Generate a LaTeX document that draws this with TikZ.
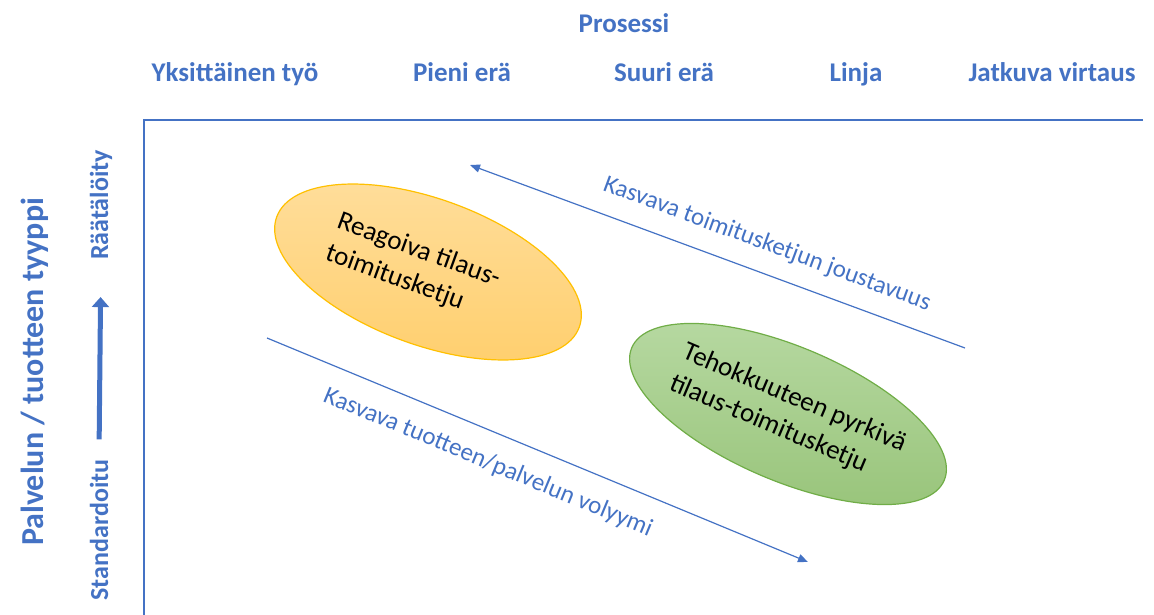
\documentclass[tikz,border=0pt]{standalone}
\usepackage{fontspec}
\setmainfont{Carlito}
\usepackage{xcolor}
\usetikzlibrary{shapes, arrows.meta, positioning, calc}
\definecolor{axisblue}{HTML}{4472C4}
\definecolor{orangeedge}{HTML}{FFC000}
\definecolor{orangetop}{HTML}{FFDE9C}
\definecolor{orangebottom}{HTML}{FFCF6E}
\definecolor{greenedge}{HTML}{70AD47}
\definecolor{greentop}{HTML}{B7D9A2}
\definecolor{greenbottom}{HTML}{98C47A}
\tikzset{
    axis/.style={draw=axisblue, line width=2.6pt},
    heading/.style={text=axisblue, font=\fontsize{27}{32}\selectfont\bfseries, inner sep=0pt, anchor=base},
    sidelabel/.style={text=axisblue, font=\fontsize{26}{30}\selectfont\bfseries, rotate=90, inner sep=0pt, anchor=base},
    levelarrow/.style={draw=axisblue, line width=5pt, -{Triangle[length=10pt, width=17pt]}},
    trend/.style={draw=axisblue, line width=1.2pt, -{Triangle[length=10pt, width=8pt]}},
    trendlabel/.style={text=axisblue, font=\fontsize{25}{29}\selectfont, sloped},
    chain/.style={ellipse, draw, line width=1.2pt, align=left, font=\fontsize{27}{34}\selectfont, inner sep=0pt}
}

\begin{document}
\begin{tikzpicture}[x=1pt, y=1pt]
  \useasboundingbox (0,0) rectangle (1154,-615);
  % axes
  \coordinate (origin) at (144,-120);
  \coordinate (xend) at (1143,-120);
  \coordinate (yend) at (144,-615);
  \draw[axis] (xend) -- (origin) -- (yend);
  % process types
  \node[heading] (process) at (624,-33) {Prosessi};
  \node[heading] (job) at (235,-82) {Yksittäinen työ};
  \node[heading] (smallbatch) at (462,-82) {Pieni erä};
  \node[heading] (largebatch) at (664,-82) {Suuri erä};
  \node[heading] (line) at (856,-82) {Linja};
  \node[heading] (flow) at (1052,-82) {Jatkuva virtaus};
  % product types
  \node[sidelabel, font=\fontsize{32}{36}\selectfont\bfseries] (product) at (43,-372) {Palvelun / tuotteen tyyppi};
  \node[sidelabel] (custom) at (108,-205) {Räätälöity};
  \node[sidelabel] (standard) at (108,-530) {Standardoitu};
  \draw[levelarrow, shorten <=20pt, shorten >=37pt] (standard.east) -- (custom.west);
  % supply chains
  \node[chain, draw=orangeedge, top color=orangetop, bottom color=orangebottom,
        minimum width=322pt, minimum height=146pt, rotate=-20] (reactive) at (428,-272)
        {Reagoiva tilaus-\hspace*{32pt}\\toimitusketju};
  \node[chain, draw=greenedge, top color=greentop, bottom color=greenbottom,
        minimum width=324pt, minimum height=134pt, rotate=-23] (efficient) at (788,-414)
        {Tehokkuuteen pyrkivä\\tilaus-toimitusketju};
  % trends
  \coordinate (flexstart) at (965,-348);
  \coordinate (flexend) at (470,-165);
  \coordinate (volstart) at (267,-338);
  \coordinate (volend) at (808,-562);
  \draw[trend] (flexstart) -- node[trendlabel, above=14pt, pos=0.42] {Kasvava toimitusketjun joustavuus} (flexend);
  \draw[trend] (volstart) -- node[trendlabel, below=16pt, pos=0.43] {Kasvava tuotteen/palvelun volyymi} (volend);
\end{tikzpicture}
\end{document}
